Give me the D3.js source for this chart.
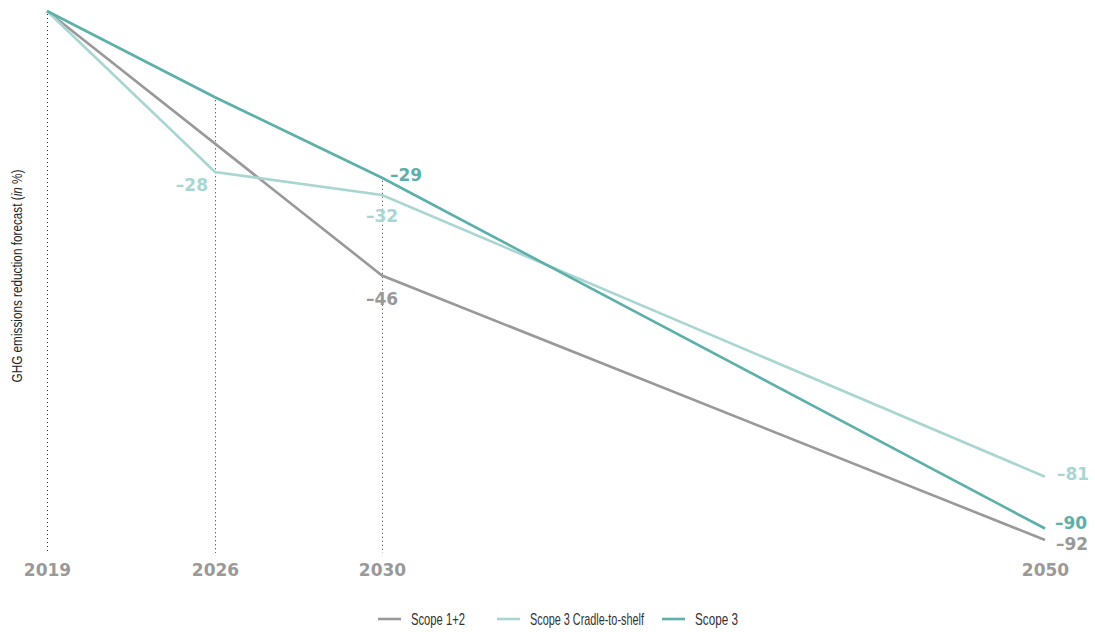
<!DOCTYPE html>
<html><head><meta charset="utf-8">
<script src="https://cdn.jsdelivr.net/npm/d3@7"></script>
<style>
body{margin:0;background:#fff;}
svg{display:block;}
</style></head>
<body><svg id="c" width="1095" height="632"></svg>
<script>
const years = [2019, 2026, 2030, 2050];
const yearLabels = ["2019", "2026", "2030", "2050"];
const scope12 = [0, null, -46, -92];
const scope3C2S = [0, -28, -32, -81];
const scope3 = [0, -15, -29, -90];
const seriesNames = ["Scope 1+2", "Scope 3 Cradle-to-shelf", "Scope 3"];
const yTitle = "GHG emissions reduction forecast";

(function(){
const colors = ["#999999", "#a9d6d2", "#5cb0a9"];
const series = [scope12, scope3C2S, scope3].map((v, i) => ({
  name: seriesNames[i], color: colors[i],
  pts: years.map((yr, j) => ({yr, v: v[j]})).filter(d => d.v !== null)
}));

const svg = d3.select("#c");
const mLeft = 47, mRight = 1045, mTop = 11, mBottom = 540, axisBottom = 553;
const fr = [0, 168/998, 335/998, 1];
const x = d3.scaleLinear().domain(years).range(fr.map(f => mLeft + f*(mRight-mLeft)));
const y = d3.scaleLinear().domain([0, -92]).range([mTop, mBottom]);

function squeeze(sel, w, anchorX, anchorY) {
  const n = sel.node().getComputedTextLength();
  sel.attr("transform", `translate(${anchorX},${anchorY}) scale(${w / n},1)`);
}

// dotted guides
years.slice(0,3).forEach((yr) => {
  const vals = series.map(s => s.pts.find(p => p.yr === yr)).filter(Boolean).map(p => p.v);
  const mx = d3.max(vals);
  const xx = Math.round(x(yr)) + 0.5;
  svg.append("line")
    .attr("x1", xx).attr("x2", xx)
    .attr("y1", y(mx) + 3).attr("y2", axisBottom)
    .attr("stroke", "#333").attr("stroke-width", 1)
    .attr("stroke-dasharray", "1,3");
});

// lines
const line = d3.line().x(d => x(d.yr)).y(d => y(d.v));
series.forEach(s => {
  svg.append("path").datum(s.pts).attr("d", line)
    .attr("fill", "none").attr("stroke", s.color).attr("stroke-width", 2.6)
    .attr("stroke-linejoin", "miter");
});

// x tick labels
const xa = svg.append("g").attr("transform", `translate(0,${axisBottom})`)
  .call(d3.axisBottom(x).tickValues(years).tickFormat((d,i) => yearLabels[i]).tickSize(0).tickPadding(11));
xa.select(".domain").remove();
xa.selectAll("text").attr("font-family", "DejaVu Sans").attr("font-weight", "bold")
  .attr("font-size", 17).attr("fill", "#999").attr("dy", "0.71em");

// value labels
const fmt = v => "\u2013" + Math.abs(v);
const labelSpec = [
  {s: 1, yr: 2026, dx: -7, dy: 13, anchor: "end"},
  {s: 1, yr: 2030, dx: 0, dy: 21, anchor: "middle"},
  {s: 0, yr: 2030, dx: 0, dy: 23, anchor: "middle"},
  {s: 2, yr: 2030, dx: 8, dy: -3, anchor: "start"},
  {s: 1, yr: 2050, dx: 12, dy: -3, anchor: "start"},
  {s: 2, yr: 2050, dx: 10, dy: -6, anchor: "start"},
  {s: 0, yr: 2050, dx: 11, dy: 4, anchor: "start"}
];
labelSpec.forEach(L => {
  const p = series[L.s].pts.find(d => d.yr === L.yr);
  svg.append("text")
    .attr("x", x(p.yr) + L.dx).attr("y", y(p.v) + L.dy)
    .attr("dy", "0.36em").attr("text-anchor", L.anchor)
    .attr("font-family", "DejaVu Sans").attr("font-weight", "bold")
    .attr("font-size", 17)
    .attr("fill", series[L.s].color)
    .text(fmt(p.v));
});

// y title
const yt = svg.append("text")
  .attr("text-anchor", "middle")
  .attr("font-family", "'Liberation Sans', sans-serif")
  .attr("font-size", 15).attr("fill", "#222");
yt.append("tspan").text(yTitle + " (");
yt.append("tspan").attr("font-style", "italic").text("in");
yt.append("tspan").text(" %)");
{
  const n = yt.node().getComputedTextLength();
  yt.attr("transform", `translate(22,276) rotate(-90) scale(${213/n},1)`);
}

// legend
const legX = [378, 497, 662];
const legW = [54, 114, 43];
const lg = svg.append("g").attr("transform", "translate(0,619)");
series.forEach((s, i) => {
  const g = lg.append("g").attr("transform", `translate(${legX[i]},0)`);
  g.append("line").attr("x1", 0).attr("x2", 23).attr("y1", 0).attr("y2", 0)
    .attr("stroke", s.color).attr("stroke-width", 2.6);
  const t = g.append("text").attr("dy", "0.35em")
    .attr("font-family", "'Liberation Sans', sans-serif")
    .attr("font-size", 17).attr("fill", "#333").text(s.name);
  squeeze(t, legW[i], 33, 0);
});
})();
</script></body></html>
